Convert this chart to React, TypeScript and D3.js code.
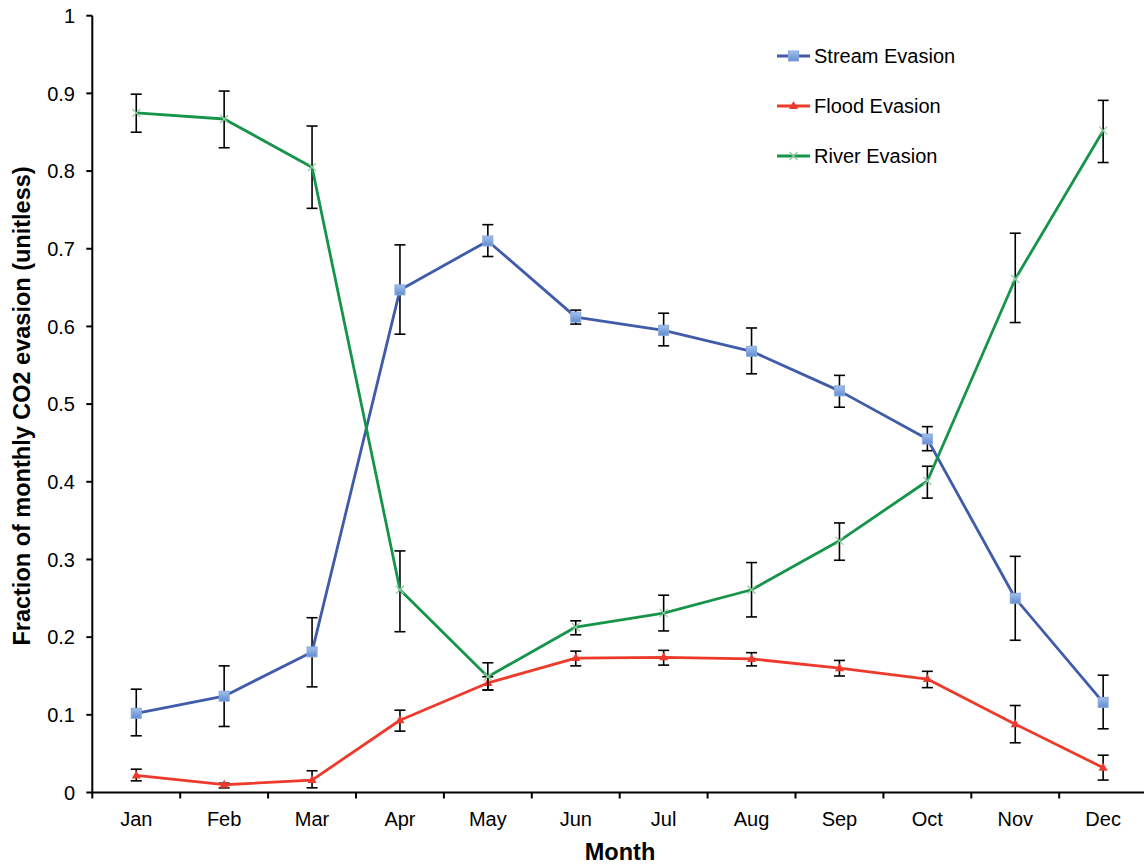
import React from "react";
import * as d3 from "d3";

const months = ["Jan", "Feb", "Mar", "Apr", "May", "Jun", "Jul", "Aug", "Sep", "Oct", "Nov", "Dec"];
const yTicks = [0, 0.1, 0.2, 0.3, 0.4, 0.5, 0.6, 0.7, 0.8, 0.9, 1];

const streamValues = [0.102, 0.124, 0.181, 0.647, 0.710, 0.612, 0.595, 0.568, 0.517, 0.455, 0.250, 0.116];
const streamUpper = [0.133, 0.163, 0.225, 0.705, 0.731, 0.621, 0.617, 0.598, 0.537, 0.471, 0.304, 0.151];
const streamLower = [0.073, 0.085, 0.136, 0.590, 0.690, 0.603, 0.575, 0.539, 0.496, 0.440, 0.196, 0.082];

const floodValues = [0.022, 0.010, 0.016, 0.093, 0.141, 0.173, 0.174, 0.172, 0.160, 0.146, 0.088, 0.032];
const floodUpper = [0.030, 0.012, 0.028, 0.106, 0.149, 0.182, 0.183, 0.180, 0.170, 0.156, 0.112, 0.048];
const floodLower = [0.015, 0.006, 0.006, 0.079, 0.132, 0.163, 0.164, 0.163, 0.150, 0.135, 0.064, 0.016];

const riverValues = [0.875, 0.867, 0.805, 0.261, 0.149, 0.213, 0.231, 0.261, 0.324, 0.401, 0.661, 0.852];
const riverUpper = [0.899, 0.903, 0.858, 0.311, 0.167, 0.221, 0.254, 0.296, 0.347, 0.420, 0.720, 0.891];
const riverLower = [0.850, 0.830, 0.752, 0.207, 0.132, 0.203, 0.208, 0.226, 0.299, 0.379, 0.605, 0.811];

const seriesNames = ["Stream Evasion", "Flood Evasion", "River Evasion"];

const FONT = "'Liberation Sans', Arial, sans-serif";

export default function App() {
  const W = 1144, H = 865;
  const left = 92.3, bandW = 87.9;
  const x = d3.scaleBand<string>().domain(months).range([left, left + bandW * 12]).paddingInner(0).paddingOuter(0);
  const y = d3.scaleLinear().domain([0, 1]).range([792.5, 15.7]);
  const cx = (m: string) => (x(m) as number) + x.bandwidth() / 2;

  const series = [
    { name: seriesNames[0], vals: streamValues, up: streamUpper, lo: streamLower, color: "#3F5BA9", marker: "square" },
    { name: seriesNames[1], vals: floodValues, up: floodUpper, lo: floodLower, color: "#EE3A2C", marker: "triangle" },
    { name: seriesNames[2], vals: riverValues, up: riverUpper, lo: riverLower, color: "#15944A", marker: "x" },
  ];

  const line = d3.line<number>().x((_, i) => cx(months[i])).y((v) => y(v));

  const marker = (type: string, px: number, py: number, key: string) => {
    if (type === "square") {
      return <rect key={key} x={px - 5} y={py - 5} width={10} height={10} fill="url(#sqGrad)" stroke="#8AA8DC" strokeWidth={1} />;
    }
    if (type === "triangle") {
      return <path key={key} d={`M${px},${py - 5} L${px + 4.5},${py + 3} L${px - 4.5},${py + 3} Z`} fill="#EE3A2C" />;
    }
    return (
      <path key={key} d={`M${px - 4},${py - 4} L${px + 4},${py + 4} M${px - 4},${py + 4} L${px + 4},${py - 4}`} stroke="#8FCB9E" strokeWidth={1.2} />
    );
  };

  const legendY = [56, 106, 156];

  return (
    <svg width={W} height={H} style={{ display: "block", position: "absolute", left: 0, top: 0 }} fontFamily={FONT}>
      <defs>
        <linearGradient id="sqGrad" x1="0" y1="0" x2="0" y2="1">
          <stop offset="0%" stopColor="#A3C1EC" />
          <stop offset="100%" stopColor="#5F8CD2" />
        </linearGradient>
      </defs>
      <rect width={W} height={H} fill="#fff" />

      {/* axes */}
      <line x1={left} x2={left} y1={y(1)} y2={y(0)} stroke="#000" strokeWidth={2} />
      <line x1={left - 1} x2={W} y1={y(0)} y2={y(0)} stroke="#000" strokeWidth={2} />
      {yTicks.map((t) => (
        <g key={t}>
          <line x1={left - 6} x2={left} y1={y(t)} y2={y(t)} stroke="#000" strokeWidth={2} />
          <text x={75} y={y(t)} dy="0.36em" textAnchor="end" fontSize={20} fill="#000">{String(t)}</text>
        </g>
      ))}
      {d3.range(13).map((i) => (
        <line key={i} x1={left + i * bandW} x2={left + i * bandW} y1={y(0)} y2={y(0) + 6} stroke="#000" strokeWidth={2} />
      ))}
      {months.map((m) => (
        <text key={m} x={cx(m)} y={826} textAnchor="middle" fontSize={20} fill="#000">{m}</text>
      ))}
      <text x={620} y={860} textAnchor="middle" fontSize={23.5} fontWeight="bold">Month</text>
      <text transform={`translate(30,406) rotate(-90)`} textAnchor="middle" fontSize={23.5} fontWeight="bold">Fraction of monthly CO2 evasion (unitless)</text>

      {/* series */}
      {series.map((s, si) => (
        <g key={s.name}>
          {months.map((m, i) => {
            const px = cx(m);
            return (
              <g key={m} stroke="#000" strokeWidth={1.6}>
                <line x1={px} x2={px} y1={y(s.up[i])} y2={y(s.lo[i])} />
                <line x1={px - 5.5} x2={px + 5.5} y1={y(s.up[i])} y2={y(s.up[i])} />
                <line x1={px - 5.5} x2={px + 5.5} y1={y(s.lo[i])} y2={y(s.lo[i])} />
              </g>
            );
          })}
          <path d={line(s.vals) || ""} fill="none" stroke={s.color} strokeWidth={2.8} strokeLinejoin="round" />
          {months.map((m, i) => marker(s.marker, cx(m), y(s.vals[i]), `${si}-${m}`))}
        </g>
      ))}

      {/* legend */}
      {series.map((s, i) => (
        <g key={s.name}>
          <line x1={777} x2={810} y1={legendY[i]} y2={legendY[i]} stroke={s.color} strokeWidth={2.8} />
          {marker(s.marker, 793.5, legendY[i], `lg${i}`)}
          <text x={814} y={legendY[i]} dy="0.36em" fontSize={20} fill="#000">{s.name}</text>
        </g>
      ))}
    </svg>
  );
}
